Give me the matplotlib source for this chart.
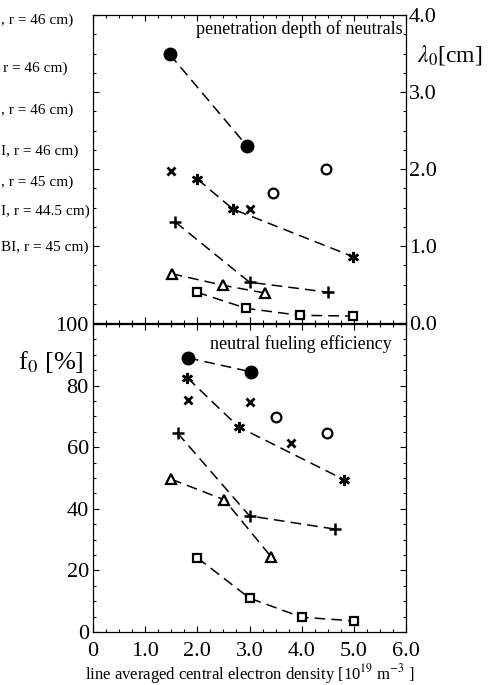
import matplotlib.pyplot as plt
from matplotlib.ticker import MultipleLocator
import numpy as np

plt.rcParams['font.family'] = ['Liberation Serif', 'DejaVu Serif']
plt.rcParams['mathtext.fontset'] = 'stix'

# ----- top panel: penetration depth of neutrals, lambda_0 [cm] -----
lam_fcirc_x = [1.47, 2.95]
lam_fcirc_y = [3.49, 2.30]
lam_cross_x = [1.49, 3.00]
lam_cross_y = [1.97, 1.48]
lam_star_x = [2.00, 2.68, 4.99]
lam_star_y = [1.87, 1.48, 0.86]
lam_ocirc_x = [3.46, 4.47]
lam_ocirc_y = [1.69, 2.00]
lam_plus_x = [1.58, 3.00, 4.50]
lam_plus_y = [1.31, 0.53, 0.40]
lam_tri_x = [1.51, 2.49, 3.29]
lam_tri_y = [0.64, 0.49, 0.39]
lam_sq_x = [1.99, 2.94, 3.96, 4.99]
lam_sq_y = [0.40, 0.19, 0.10, 0.09]

# ----- bottom panel: neutral fueling efficiency, f_0 [%] -----
f_fcirc_x = [1.82, 3.02]
f_fcirc_y = [89.0, 84.5]
f_cross_x = [1.82, 3.00, 3.80]
f_cross_y = [75.3, 74.6, 61.3]
f_star_x = [1.81, 2.79, 4.82]
f_star_y = [82.5, 66.6, 49.4]
f_ocirc_x = [3.50, 4.49]
f_ocirc_y = [69.9, 64.7]
f_plus_x = [1.62, 3.00, 4.64]
f_plus_y = [64.6, 37.7, 33.4]
f_tri_x = [1.50, 2.52, 3.42]
f_tri_y = [49.6, 42.9, 24.3]
f_sq_x = [2.00, 3.00, 4.00, 5.00]
f_sq_y = [24.1, 11.0, 4.8, 3.6]

legend_texts = [', r = 46 cm)', 'r = 46 cm)', ', r = 46 cm)', 'I, r = 46 cm)',
                ', r = 45 cm)', 'I, r = 44.5 cm)', 'BI, r = 45 cm)']

W, H = 497, 685
fig = plt.figure(figsize=(W / 100, H / 100), dpi=100)
ax1 = fig.add_axes([93 / W, 1 - 323 / H, 313 / W, 308 / H])
ax2 = fig.add_axes([93 / W, 1 - 632 / H, 313 / W, 308 / H])

dash = dict(color='black', lw=1.1, ls=(0, (7, 4)))
star = (6, 2, 0)


def draw(ax, d):
    fx, fy, cx, cy, sx, sy, ox, oy, px, py, tx, ty, qx, qy = d
    ax.plot(fx, fy, marker='o', ms=9, mfc='black', mec='black', **dash)
    ax.plot(cx, cy, 'x', ms=6, mew=2, color='black', ls='none')
    ax.plot(sx, sy, marker=star, ms=8, mew=1.8, **dash)
    ax.plot(ox, oy, 'o', ms=7, mfc='white', mec='black', mew=1.6, ls='none')
    ax.plot(px, py, marker='+', ms=9, mew=1.8, **dash)
    ax.plot(tx, ty, marker='^', ms=7, mfc='white', mec='black', mew=1.6, **dash)
    ax.plot(qx, qy, marker='s', ms=6, mfc='white', mec='black', mew=1.6, **dash)


draw(ax1, [lam_fcirc_x, lam_fcirc_y, lam_cross_x, lam_cross_y, lam_star_x, lam_star_y,
           lam_ocirc_x, lam_ocirc_y, lam_plus_x, lam_plus_y, lam_tri_x, lam_tri_y,
           lam_sq_x, lam_sq_y])
draw(ax2, [f_fcirc_x, f_fcirc_y, f_cross_x, f_cross_y, f_star_x, f_star_y,
           f_ocirc_x, f_ocirc_y, f_plus_x, f_plus_y, f_tri_x, f_tri_y,
           f_sq_x, f_sq_y])

for ax in (ax1, ax2):
    ax.set_xlim(0, 6)
    ax.xaxis.set_major_locator(MultipleLocator(1))
    ax.xaxis.set_minor_locator(MultipleLocator(0.25))
    ax.tick_params(which='both', direction='in', top=True, bottom=True,
                   left=True, right=True, labelsize=16, width=0.8)
    ax.tick_params(which='major', length=4)
    ax.tick_params(which='minor', length=2)
    for s in ax.spines.values():
        s.set_linewidth(0.9)

ax1.set_ylim(0, 4)
ax1.yaxis.set_major_locator(MultipleLocator(1))
ax1.yaxis.set_minor_locator(MultipleLocator(0.25))
ax1.yaxis.tick_right()
ax1.tick_params(which='both', left=True, labelbottom=False, pad=2)
ax1.set_yticks([0, 1, 2, 3, 4], ['0.0', '1.0', '2.0', '3.0', '4.0'])
ax1.text(0.99, 0.955, 'penetration depth of neutrals', transform=ax1.transAxes,
         ha='right', va='center', fontsize=13)
fig.text(417 / W, 1 - 55 / H, r'$\lambda_0$[cm]', fontsize=17, ha='left', va='center')

ax2.set_ylim(0, 100)
ax2.yaxis.set_major_locator(MultipleLocator(20))
ax2.yaxis.set_minor_locator(MultipleLocator(5))
ax2.set_xticks([0, 1, 2, 3, 4, 5, 6], ['0', '1.0', '2.0', '3.0', '4.0', '5.0', '6.0'])
ax2.tick_params(axis='y', pad=3)
ax2.tick_params(axis='x', pad=7)
ax2.text(0.955, 0.935, 'neutral fueling efficiency', transform=ax2.transAxes,
         ha='right', va='center', fontsize=13)
fig.text(18 / W, 1 - 362 / H, r'f$_0$ [%]', fontsize=19, ha='left', va='center')
fig.text(250 / W, 1 - 674 / H, r'line averaged central electron density [10$^{19}$ m$^{-3}$ ]',
         fontsize=12, ha='center', va='center')

# legend entries, cut at the left edge in the original
leg_y = [20, 68, 110, 151, 182, 211, 247]
leg_x = [1, 3, 1, 1, 1, 1, 1]
for t, yy, xx in zip(legend_texts, leg_y, leg_x):
    fig.text(xx / W, 1 - yy / H, t, fontsize=11, ha='left', va='center')

fig.savefig('out.png', dpi=100)
